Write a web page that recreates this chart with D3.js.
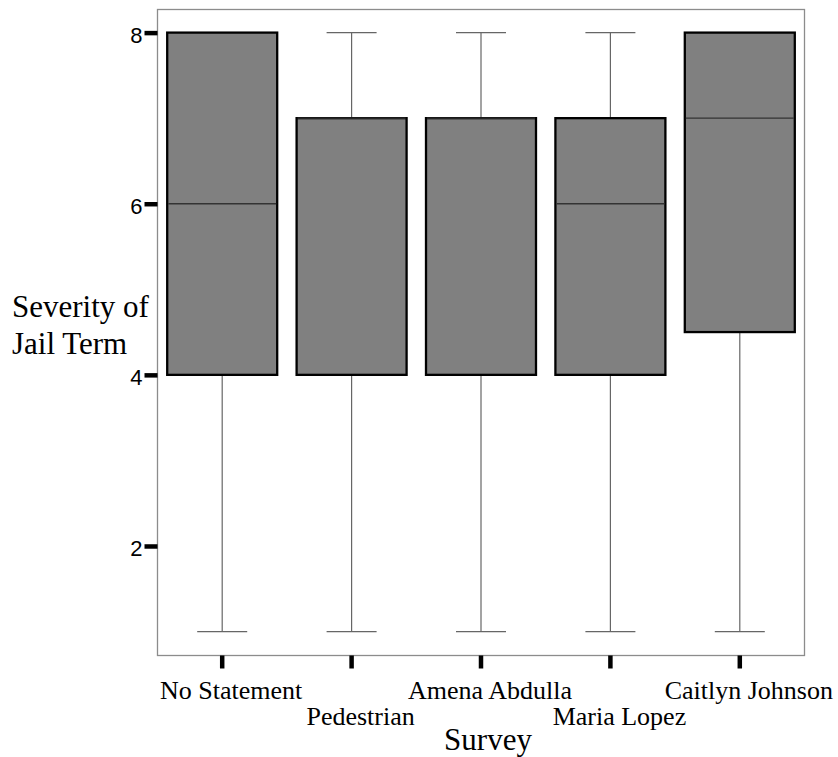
<!DOCTYPE html>
<html>
<head>
<meta charset="utf-8">
<script src="https://d3js.org/d3.v7.min.js"></script>
<style>
  html, body { margin: 0; padding: 0; background: #fff; }
</style>
</head>
<body>
<svg id="chart" width="838" height="757"></svg>
<script>
// ---- data ----
const categories = ["No Statement", "Pedestrian", "Amena Abdulla", "Maria Lopez", "Caitlyn Johnson"];
const whiskerLow  = [1, 1, 1, 1, 1];
const q1Values    = [4, 4, 4, 4, 4.5];
const medians     = [6, 7, 7, 6, 7];
const q3Values    = [8, 7, 7, 7, 8];
const whiskerHigh = [8, 8, 8, 8, 8];
const yTicks = [2, 4, 6, 8];
const yTitleLines = ["Severity of", "Jail Term"];
const xTitle = "Survey";

// ---- layout ----
const svg = d3.select("#chart");
const frame = { left: 157.5, right: 804.5, top: 9.5, bottom: 655.5 };

const x = d3.scaleBand().domain(categories).range([frame.left, frame.right]).padding(0);
const y = d3.scaleLinear().domain([0.72, 8.27]).range([frame.bottom, frame.top]);

const boxW = x.bandwidth() * 0.85;
const capW = 50;

const data = categories.map((c, i) => ({
  cat: c, lo: whiskerLow[i], q1: q1Values[i], med: medians[i], q3: q3Values[i], hi: whiskerHigh[i]
}));

// frame
svg.append("rect")
  .attr("x", frame.left).attr("y", frame.top)
  .attr("width", frame.right - frame.left).attr("height", frame.bottom - frame.top)
  .attr("fill", "none").attr("stroke", "#8c8c8c").attr("stroke-width", 1.3);

const g = svg.append("g");
const cx = d => x(d.cat) + x.bandwidth() / 2;

// whiskers
g.selectAll(".wlo").data(data).join("line")
  .attr("x1", cx).attr("x2", cx)
  .attr("y1", d => y(d.lo)).attr("y2", d => y(d.q1))
  .attr("stroke", "#666").attr("stroke-width", 1.2);
g.selectAll(".whi").data(data).join("line")
  .attr("x1", cx).attr("x2", cx)
  .attr("y1", d => y(d.hi)).attr("y2", d => y(d.q3))
  .attr("stroke", "#666").attr("stroke-width", 1.2);
// caps
g.selectAll(".clo").data(data).join("line")
  .attr("x1", d => cx(d) - capW / 2).attr("x2", d => cx(d) + capW / 2)
  .attr("y1", d => y(d.lo)).attr("y2", d => y(d.lo))
  .attr("stroke", "#666").attr("stroke-width", 1.2);
g.selectAll(".chi").data(data).join("line")
  .attr("x1", d => cx(d) - capW / 2).attr("x2", d => cx(d) + capW / 2)
  .attr("y1", d => y(d.hi)).attr("y2", d => y(d.hi))
  .attr("stroke", "#666").attr("stroke-width", 1.2);

// boxes
g.selectAll(".box").data(data).join("rect")
  .attr("x", d => cx(d) - boxW / 2).attr("width", boxW)
  .attr("y", d => y(d.q3)).attr("height", d => y(d.q1) - y(d.q3))
  .attr("fill", "#808080").attr("stroke", "#000").attr("stroke-width", 2.3);

// medians
g.selectAll(".med").data(data).join("line")
  .attr("x1", d => cx(d) - boxW / 2 + 1).attr("x2", d => cx(d) + boxW / 2 - 1)
  .attr("y1", d => y(d.med)).attr("y2", d => y(d.med))
  .attr("stroke", "#333").attr("stroke-width", 1.3);

// y axis ticks
const yAxis = d3.axisLeft(y).tickValues(yTicks).tickSize(13).tickPadding(2).tickFormat(d3.format("d"));
const ya = svg.append("g").attr("transform", `translate(${frame.left},0)`).call(yAxis);
ya.select(".domain").remove();
ya.selectAll(".tick line").attr("stroke", "#000").attr("stroke-width", 4.5);
ya.selectAll(".tick text")
  .attr("font-family", "'Liberation Sans', Arial, sans-serif")
  .attr("font-size", 22).attr("fill", "#000").attr("dy", "0.45em");

// x axis ticks
const xAxis = d3.axisBottom(x).tickSize(13).tickFormat("");
const xa = svg.append("g").attr("transform", `translate(0,${frame.bottom})`).call(xAxis);
xa.select(".domain").remove();
xa.selectAll(".tick line").attr("stroke", "#000").attr("stroke-width", 4.5);

// x labels (staggered)
svg.selectAll(".xlab").data(categories).join("text")
  .attr("x", d => x(d) + x.bandwidth() / 2 + 9)
  .attr("y", (d, i) => i % 2 === 0 ? 699 : 725)
  .attr("text-anchor", "middle")
  .attr("font-family", "'Liberation Serif', 'Times New Roman', serif")
  .attr("font-size", 26).attr("fill", "#000")
  .text(d => d);

// x title
svg.append("text")
  .attr("x", (frame.left + frame.right) / 2 + 7).attr("y", 750)
  .attr("text-anchor", "middle")
  .attr("font-family", "'Liberation Serif', 'Times New Roman', serif")
  .attr("font-size", 31).attr("fill", "#000")
  .text(xTitle);

// y title
svg.append("text")
  .attr("font-family", "'Liberation Serif', 'Times New Roman', serif")
  .attr("font-size", 31).attr("fill", "#000")
  .selectAll("tspan").data(yTitleLines).join("tspan")
  .attr("x", 12).attr("y", (d, i) => 317 + i * 37)
  .text(d => d);
</script>
</body>
</html>
